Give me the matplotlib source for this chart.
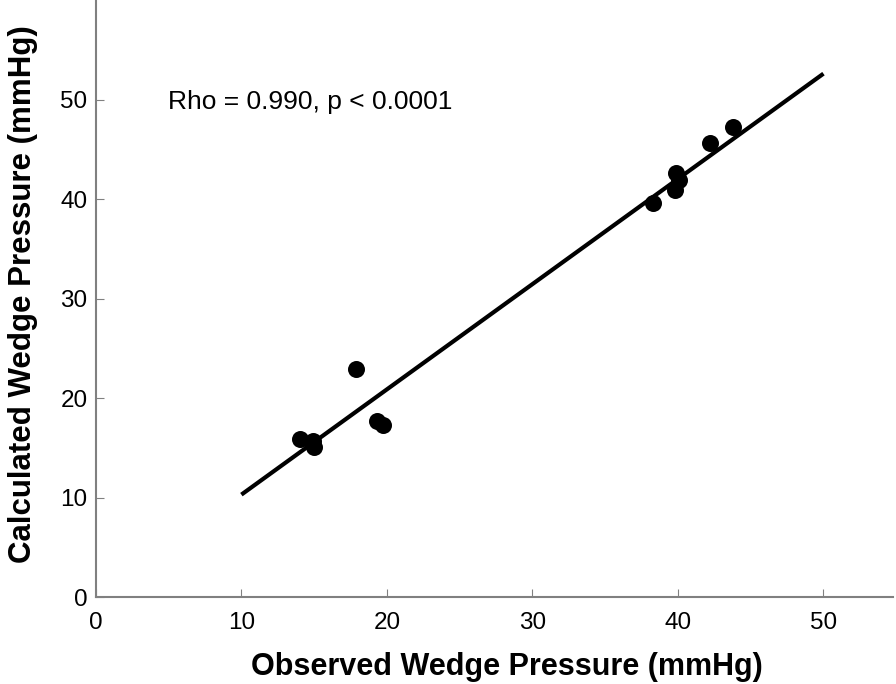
import matplotlib.pyplot as plt

observed = [14.0, 14.9, 15.0, 17.9, 19.3, 19.7, 38.3, 39.8, 39.9, 40.1, 42.2, 43.8]
calculated = [15.9, 15.7, 15.1, 22.9, 17.7, 17.3, 39.6, 40.9, 42.6, 41.9, 45.6, 47.2]
fit_x = [10, 50]
fit_y = [10.3, 52.6]
ticks = [0, 10, 20, 30, 40, 50]

plt.rcParams["font.family"] = ["Liberation Sans", "DejaVu Sans"]

fig = plt.figure(figsize=(8.96, 6.84), dpi=100)
ax = fig.add_axes([0.107, 0.127, 0.89, 0.873])

ax.plot(fit_x, fit_y, color="black", lw=3, solid_capstyle="butt", zorder=2)
ax.scatter(observed, calculated, s=150, color="black", zorder=3, linewidths=0)

ax.set_xlim(0, 54.8)
ax.set_ylim(0, 60)
ax.set_xticks(ticks)
ax.set_yticks(ticks)
ax.tick_params(direction="in", length=6, color="#808080", labelsize=17.5)
ax.tick_params(axis="x", pad=11)
ax.tick_params(axis="y", pad=6)
for side in ("top", "right"):
    ax.spines[side].set_visible(False)
for side in ("left", "bottom"):
    ax.spines[side].set_color("#808080")
    ax.spines[side].set_linewidth(1.5)

ax.set_xlabel("Observed Wedge Pressure (mmHg)", fontsize=22, fontweight="bold")
ax.set_ylabel("Calculated Wedge Pressure (mmHg)", fontsize=22.5, fontweight="bold")
ax.xaxis.set_label_coords(0.516, -0.117)
ax.yaxis.set_label_coords(-0.092, 0.508)
ax.xaxis.label.set_va("center")
ax.yaxis.label.set_va("center")
ax.text(4.95, 49.8, "Rho = 0.990, p < 0.0001", fontsize=19, va="center", ha="left")

fig.savefig("out.png", dpi=100)
